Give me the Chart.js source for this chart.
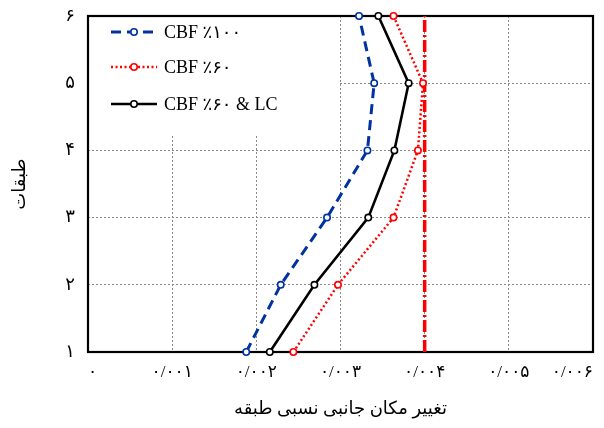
<!DOCTYPE html>
<html>
<head>
<meta charset="utf-8">
<script src="https://cdn.jsdelivr.net/npm/chart.js@4"></script>
<style>
  html, body { margin: 0; padding: 0; background: #fff; }
  #wrap { width: 604px; height: 428px; }
</style>
</head>
<body>
<div id="wrap"><canvas id="driftChart" width="604" height="428"></canvas></div>
<script>
// stories (y) and inter-story drift ratio (x)
const stories = [1, 2, 3, 4, 5, 6];
const cbf100 = [0.00188, 0.00229, 0.00284, 0.00332, 0.00340, 0.00322];
const cbf60 = [0.00244, 0.00297, 0.00363, 0.00392, 0.00398, 0.00363];
const cbf60lc = [0.00216, 0.00269, 0.00333, 0.00364, 0.00381, 0.00345];
const limitValue = 0.004;

const seriesNames = ['CBF ٪۱۰۰', 'CBF ٪۶۰', 'CBF ٪۶۰ & LC'];
const xTickLabels = ['۰', '۰/۰۰۱', '۰/۰۰۲', '۰/۰۰۳', '۰/۰۰۴', '۰/۰۰۵', '۰/۰۰۶'];
const yTickLabels = ['۱', '۲', '۳', '۴', '۵', '۶'];
const xTitle = 'تغییر مکان جانبی نسبی طبقه';
const yTitle = 'طبقات';

const FONT = "'Liberation Serif', 'DejaVu Sans', serif";

const toPoints = (vals) => vals.map((v, i) => ({ x: v, y: stories[i] }));

const series = (label, vals, color, dash, width) => ({
    label: label,
    data: toPoints(vals),
    borderColor: color,
    borderWidth: width,
    borderDash: dash,
    pointRadius: 3.2,
    pointBorderWidth: 1.6,
    pointBackgroundColor: '#fff',
    pointBorderColor: color,
    tension: 0,
    clip: false
});

// white legend box inside the plot, plus the black frame
const frameAndLegend = {
    id: 'frameAndLegend',
    beforeDatasetsDraw(chart) {
        const { ctx, chartArea: a } = chart;
        ctx.save();
        ctx.fillStyle = '#fff';
        ctx.fillRect(a.left + 1, a.top + 1, 250, 117);
        ctx.strokeStyle = '#000';
        ctx.lineWidth = 2.2;
        ctx.strokeRect(a.left, a.top, a.right - a.left, a.bottom - a.top);
        ctx.restore();
    },
    afterDatasetsDraw(chart) {
        const { ctx, chartArea: a } = chart;
        const rows = [16, 51, 88];
        ctx.save();
        chart.data.datasets.slice(0, 3).forEach((ds, i) => {
            const y = a.top + rows[i];
            const x0 = a.left + 23, x1 = a.left + 69, xm = (x0 + x1) / 2;
            ctx.strokeStyle = ds.borderColor;
            ctx.lineWidth = ds.borderWidth;
            ctx.setLineDash(ds.borderDash || []);
            ctx.beginPath();
            ctx.moveTo(x0, y);
            ctx.lineTo(x1, y);
            ctx.stroke();
            ctx.setLineDash([]);
            ctx.fillStyle = '#fff';
            ctx.lineWidth = 1.6;
            ctx.beginPath();
            ctx.arc(xm, y, 3.2, 0, Math.PI * 2);
            ctx.fill();
            ctx.stroke();
            ctx.fillStyle = '#000';
            ctx.font = '18px ' + FONT;
            ctx.textBaseline = 'middle';
            ctx.textAlign = 'left';
            ctx.fillText(ds.label, a.left + 76, y + 1);
        });
        ctx.restore();
    }
};

new Chart(document.getElementById('driftChart').getContext('2d'), {
    type: 'line',
    data: {
        datasets: [
            series(seriesNames[0], cbf100, '#0033a0', [10, 6], 3),
            series(seriesNames[1], cbf60, '#ff0000', [2, 2.5], 2.5),
            series(seriesNames[2], cbf60lc, '#000000', [], 2.6),
            {
                label: 'limit',
                data: [{ x: limitValue, y: stories[0] }, { x: limitValue, y: stories[stories.length - 1] }],
                borderColor: '#ff0000',
                borderWidth: 3.5,
                borderDash: [12, 3, 2, 3],
                pointRadius: 0,
                clip: false
            }
        ]
    },
    options: {
        responsive: false,
        animation: false,
        devicePixelRatio: 1,
        layout: { padding: { top: 16, right: 11, left: 0, bottom: 0 } },
        plugins: { legend: { display: false }, tooltip: { enabled: false } },
        scales: {
            x: {
                type: 'linear',
                min: 0,
                max: 0.006,
                afterFit: (s) => { s.height = 76; s.paddingLeft = 0; s.paddingRight = 0; },
                ticks: {
                    stepSize: 0.001,
                    padding: 10,
                    align: 'inner',
                    color: '#000',
                    font: { family: FONT, size: 17 },
                    maxRotation: 0,
                    autoSkip: false,
                    callback: (v, i) => xTickLabels[i]
                },
                grid: { color: '#888', lineWidth: 1, drawTicks: false },
                border: { display: false, dash: [2, 2] },
                title: {
                    display: true,
                    text: xTitle,
                    color: '#000',
                    font: { family: FONT, size: 18 },
                    padding: { top: 0, bottom: 8 }
                }
            },
            y: {
                type: 'linear',
                min: 1,
                max: 6,
                afterFit: (s) => { s.width = 88; s.paddingTop = 0; s.paddingBottom = 0; },
                ticks: {
                    stepSize: 1,
                    padding: 13,
                    color: '#000',
                    font: { family: FONT, size: 18 },
                    callback: (v, i) => yTickLabels[i]
                },
                grid: { color: '#888', lineWidth: 1, drawTicks: false },
                border: { display: false, dash: [2, 2] },
                title: {
                    display: true,
                    text: yTitle,
                    color: '#000',
                    font: { family: FONT, size: 18 },
                    padding: { top: 9, bottom: 0 }
                }
            }
        }
    },
    plugins: [frameAndLegend]
});
</script>
</body>
</html>
